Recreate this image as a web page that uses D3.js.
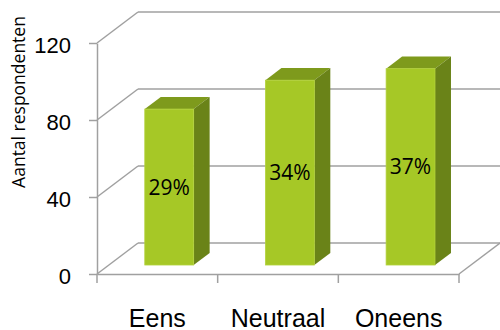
<!DOCTYPE html>
<html>
<head>
<meta charset="utf-8">
<script src="https://cdn.jsdelivr.net/npm/d3@7"></script>
<style>
  body { margin: 0; background: #fff; }
  svg { display: block; font-family: "Open Sans", sans-serif; }
</style>
</head>
<body>
<div id="container"></div>
<script>
const categories = ["Eens", "Neutraal", "Oneens"];
const values = [81, 96, 102];
const percentLabels = ["29%", "34%", "37%"];
const yTicks = [0, 40, 80, 120];

const width = 500, height = 330;
const plotLeft = 97, plotRight = 459, plotTop = 43, plotBottom = 274;
// 3d depth of the plot box
const depthX = 41, depthY = -31;
// bar sits between these fractions of the depth
const d0 = 0.29, d1 = 0.68;
const gridColor = "#a0a0a0";

const svg = d3.select("#container")
    .append("svg")
        .attr("width", width)
        .attr("height", height);

const x = d3.scaleBand()
    .domain(categories)
    .range([plotLeft, plotRight])
    .padding(0);

const y = d3.scaleLinear()
    .domain([0, 120])
    .range([plotBottom, plotTop]);

const barW = x.bandwidth() * 0.405;

// walls: side wall diagonals + back wall lines
const grid = svg.append("g")
    .attr("stroke", gridColor)
    .attr("stroke-width", 1.5)
    .attr("fill", "none");

grid.selectAll(".back")
    .data(yTicks)
    .join("line")
        .attr("class", "back")
        .attr("x1", plotLeft + depthX)
        .attr("x2", plotRight + depthX)
        .attr("y1", d => y(d) + depthY)
        .attr("y2", d => y(d) + depthY);

grid.selectAll(".side")
    .data(yTicks)
    .join("line")
        .attr("class", "side")
        .attr("x1", plotLeft)
        .attr("x2", plotLeft + depthX)
        .attr("y1", d => y(d))
        .attr("y2", d => y(d) + depthY);

// floor right edge
grid.append("line")
    .attr("x1", plotRight).attr("y1", y(0))
    .attr("x2", plotRight + depthX).attr("y2", y(0) + depthY);

// y axis
const yAxis = svg.append("g")
    .attr("transform", `translate(${plotLeft},0)`)
    .call(d3.axisLeft(y).tickValues(yTicks).tickSize(8).tickSizeOuter(0).tickPadding(18));
yAxis.select(".domain").attr("stroke", gridColor).attr("stroke-width", 1.5);
yAxis.selectAll(".tick line").attr("stroke", gridColor).attr("stroke-width", 1.5);
yAxis.selectAll(".tick text")
    .attr("font-size", "22px")
    .attr("fill", "#000")
    .attr("dy", "0.44em");

// x axis: front floor line, ticks at band edges, labels at band centers
const xAxis = svg.append("g")
    .attr("transform", `translate(0,${plotBottom})`)
    .call(d3.axisBottom(x).tickSize(0).tickSizeOuter(0).tickPadding(35));
xAxis.select(".domain").attr("stroke", gridColor).attr("stroke-width", 1.5);
xAxis.selectAll(".tick text")
    .attr("font-size", "25px")
    .attr("fill", "#000");

const edges = categories.map(c => x(c)).concat([x(categories[categories.length - 1]) + x.bandwidth()]);
xAxis.selectAll(".edge")
    .data(edges)
    .join("line")
        .attr("class", "edge")
        .attr("x1", d => d).attr("x2", d => d)
        .attr("y1", 0).attr("y2", 9)
        .attr("stroke", gridColor)
        .attr("stroke-width", 1.5);

// bars
const bars = svg.append("g")
    .selectAll("g")
    .data(categories.map((c, i) => ({label: c, value: values[i], pct: percentLabels[i]})))
    .join("g");

const fx = d => x(d.label) + x.bandwidth() / 2 - barW / 2 + depthX * d0;
const fTop = d => y(d.value) + depthY * d0;
const fBot = d => y(0) + depthY * d0;
const ddx = depthX * (d1 - d0), ddy = depthY * (d1 - d0);

// top face
bars.append("path")
    .attr("fill", "#7e9a1c")
    .attr("d", d => {
        const x0 = fx(d), y0 = fTop(d);
        return `M${x0},${y0}L${x0 + ddx},${y0 + ddy}L${x0 + barW + ddx},${y0 + ddy}L${x0 + barW},${y0}Z`;
    });

// side face
bars.append("path")
    .attr("fill", "#6a8318")
    .attr("d", d => {
        const x0 = fx(d) + barW, y0 = fTop(d), y1 = fBot(d);
        return `M${x0},${y0}L${x0 + ddx},${y0 + ddy}L${x0 + ddx},${y1 + ddy}L${x0},${y1}Z`;
    });

// front face
bars.append("rect")
    .attr("x", fx)
    .attr("y", fTop)
    .attr("width", barW)
    .attr("height", d => fBot(d) - fTop(d))
    .attr("fill", "#a6c826")
    .attr("stroke", "#b3d23c")
    .attr("stroke-width", 0.8);

bars.append("text")
    .attr("x", d => fx(d) + barW / 2)
    .attr("y", d => (fTop(d) + fBot(d)) / 2)
    .attr("dy", "0.36em")
    .attr("text-anchor", "middle")
    .attr("font-size", "21px")
    .attr("fill", "#000")
    .text(d => d.pct);

// y axis title
svg.append("text")
    .attr("transform", "translate(25,102) rotate(-90)")
    .attr("text-anchor", "middle")
    .attr("font-size", "17.5px")
    .attr("fill", "#000")
    .text("Aantal respondenten");
</script>
</body>
</html>
